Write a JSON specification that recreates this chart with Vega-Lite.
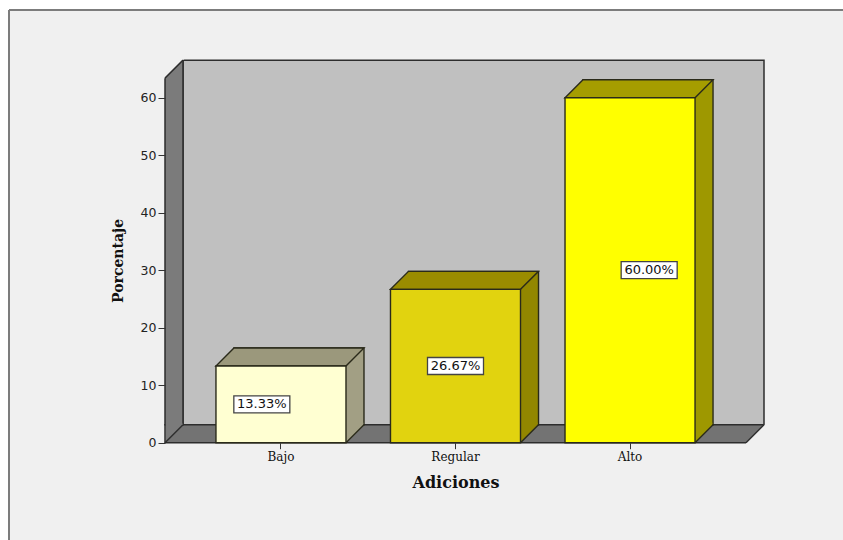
{
  "$schema": "https://vega.github.io/schema/vega-lite/v6.json",
  "width": 834,
  "height": 530,
  "padding": {"left": 9, "top": 10, "right": 0, "bottom": 0},
  "autosize": {"type": "none"},
  "background": "white",
  "config": {
    "view": {"fill": "#f0f0f0", "stroke": "#7c7c7c", "strokeWidth": 2, "strokeDash": [834, 1364, 530, 0]}
  },
  "datasets": {
    "adiciones": [
      {"Adiciones": "Bajo", "Porcentaje": 13.33, "Etiqueta": "13.33%"},
      {"Adiciones": "Regular", "Porcentaje": 26.67, "Etiqueta": "26.67%"},
      {"Adiciones": "Alto", "Porcentaje": 60.0, "Etiqueta": "60.00%"}
    ],
    "marco": [{"pieza": "pared"}]
  },
  "resolve": {"scale": {"x": "independent", "y": "independent"}},
  "layer": [
    {
      "data": {"name": "marco"},
      "layer": [
        {
          "mark": {"type": "rect", "fill": "#c0c0c0", "stroke": "#2d2d2d", "strokeWidth": 1.5, "xOffset": 18, "x2Offset": 18, "yOffset": -18, "y2Offset": -18},
          "encoding": {
            "x": {"datum": 0, "type": "quantitative", "scale": {"domain": [0, 1], "range": [156, 737], "nice": false, "zero": false}, "axis": null},
            "x2": {"datum": 1},
            "y": {"datum": 63.4, "type": "quantitative", "scale": {"domain": [0, 63.4], "range": [432.7, 68.15], "nice": false, "zero": false}, "axis": null},
            "y2": {"datum": 0}
          }
        },
        {
          "mark": {"type": "rect", "fill": "#737373", "stroke": "#2d2d2d", "strokeWidth": 1.5, "x2Offset": 18, "yOffset": -18},
          "encoding": {
            "x": {"datum": 0, "type": "quantitative", "axis": null},
            "x2": {"datum": 1},
            "y": {"datum": 0, "type": "quantitative", "axis": null},
            "y2": {"datum": 0}
          }
        },
        {
          "mark": {"type": "point", "shape": "M0,0 L18,-18 L19.5,-18 L19.5,1.5 L0,1.5 Z", "size": 4, "filled": true, "fill": "#f0f0f0", "strokeWidth": 0, "opacity": 1},
          "encoding": {
            "x": {"datum": 1, "type": "quantitative", "axis": null},
            "y": {"datum": 0, "type": "quantitative", "axis": null}
          }
        },
        {
          "mark": {"type": "point", "shape": "M0,0 L18,-18", "size": 4, "filled": false, "stroke": "#2d2d2d", "strokeWidth": 1.5, "opacity": 1},
          "encoding": {
            "x": {"datum": 1, "type": "quantitative", "axis": null},
            "y": {"datum": 0, "type": "quantitative", "axis": null}
          }
        },
        {
          "mark": {"type": "rect", "fill": "#7b7b7b", "stroke": "#2d2d2d", "strokeWidth": 1.5, "x2Offset": 18, "yOffset": -18, "y2Offset": -18},
          "encoding": {
            "x": {"datum": 0, "type": "quantitative", "axis": null},
            "x2": {"datum": 0},
            "y": {"datum": 63.4, "type": "quantitative", "axis": null},
            "y2": {"datum": 0}
          }
        },
        {
          "mark": {"type": "point", "shape": "M0,0 L-2,0 L-2,-20 L20,-20 Z", "size": 4, "filled": true, "fill": "#f0f0f0", "strokeWidth": 0, "opacity": 1},
          "encoding": {
            "x": {"datum": 0, "type": "quantitative", "axis": null},
            "y": {"datum": 63.4, "type": "quantitative", "axis": null}
          }
        },
        {
          "mark": {"type": "point", "shape": "M0,0 L18,-18", "size": 4, "filled": false, "stroke": "#2d2d2d", "strokeWidth": 1.5, "opacity": 1},
          "encoding": {
            "x": {"datum": 0, "type": "quantitative", "axis": null},
            "y": {"datum": 63.4, "type": "quantitative", "axis": null}
          }
        },
        {
          "mark": {"type": "point", "shape": "M0.8,-0.8 L0.8,-19 L18,-19 L18,-18 Z", "size": 4, "filled": true, "fill": "#7b7b7b", "strokeWidth": 0, "opacity": 1},
          "encoding": {
            "x": {"datum": 0, "type": "quantitative", "axis": null},
            "y": {"datum": 0, "type": "quantitative", "axis": null}
          }
        },
        {
          "mark": {"type": "point", "shape": "M0,0 L18,-18", "size": 4, "filled": false, "stroke": "#2d2d2d", "strokeWidth": 1.5, "opacity": 1},
          "encoding": {
            "x": {"datum": 0, "type": "quantitative", "axis": null},
            "y": {"datum": 0, "type": "quantitative", "axis": null}
          }
        }
      ]
    },
    {
      "data": {"name": "adiciones"},
      "resolve": {"scale": {"fill": "independent"}},
      "layer": [
        {
          "mark": {"type": "rect", "stroke": "#2a2a1a", "strokeWidth": 1.4, "xOffset": 18, "x2Offset": 18, "yOffset": -18, "y2Offset": -18},
          "encoding": {
            "x": {"field": "Adiciones", "type": "nominal", "scale": {"domain": ["Bajo", "Regular", "Alto"], "range": [156, 737], "paddingInner": 0.255, "paddingOuter": 0.292}, "axis": {"title": "Adiciones", "domain": false, "grid": false, "ticks": true, "tickSize": 6, "tickColor": "#333333", "labelAngle": 0, "labelFont": "DejaVu Serif", "labelFontSize": 12, "labelColor": "#111111", "labelPadding": 3, "offset": -97.3, "zindex": 2, "titleFont": "DejaVu Serif", "titleFontSize": 16, "titleFontWeight": "bold", "titleColor": "#111111", "titlePadding": 12}},
            "y": {"field": "Porcentaje", "type": "quantitative", "scale": {"domain": [0, 63.4], "range": [432.7, 68.15], "nice": false, "zero": false}, "axis": {"title": "Porcentaje", "values": [0, 10, 20, 30, 40, 50, 60], "domain": false, "grid": false, "ticks": true, "tickSize": 7, "tickColor": "#333333", "labelFont": "DejaVu Sans", "labelFontSize": 12.5, "labelColor": "#222222", "labelPadding": 2, "offset": -156, "zindex": 2, "titleFont": "DejaVu Serif", "titleFontSize": 14, "titleFontWeight": "bold", "titleColor": "#111111", "titlePadding": 15}},
            "y2": {"datum": 0},
            "fill": {"field": "Adiciones", "type": "nominal", "scale": {"domain": ["Bajo", "Regular", "Alto"], "range": ["#a29f84", "#928700", "#9e9800"]}, "legend": null}
          }
        },
        {
          "mark": {"type": "point", "shape": "M-65,0 L65,0 L83,-18 L-47,-18 Z", "size": 4, "filled": true, "stroke": "#2a2a1a", "strokeWidth": 1.4, "opacity": 1},
          "encoding": {
            "x": {"field": "Adiciones", "type": "nominal"},
            "y": {"field": "Porcentaje", "type": "quantitative"},
            "fill": {"field": "Adiciones", "type": "nominal", "scale": {"domain": ["Bajo", "Regular", "Alto"], "range": ["#9b987c", "#9a8c00", "#a59d00"]}, "legend": null}
          }
        },
        {
          "mark": {"type": "point", "shape": "M65,0 L82.3,-17.3 L82.3,-20 L65,-20 Z", "size": 4, "filled": true, "strokeWidth": 0, "opacity": 1},
          "encoding": {
            "x": {"field": "Adiciones", "type": "nominal"},
            "y": {"datum": 0, "type": "quantitative"},
            "fill": {"field": "Adiciones", "type": "nominal", "scale": {"domain": ["Bajo", "Regular", "Alto"], "range": ["#a29f84", "#928700", "#9e9800"]}, "legend": null}
          }
        },
        {
          "mark": {"type": "point", "shape": "M65,0 L83,-18", "size": 4, "filled": false, "stroke": "#2a2a1a", "strokeWidth": 1.4, "opacity": 1},
          "encoding": {
            "x": {"field": "Adiciones", "type": "nominal"},
            "y": {"datum": 0, "type": "quantitative"}
          }
        },
        {
          "mark": {"type": "rect", "stroke": "#2a2a1a", "strokeWidth": 1.4},
          "encoding": {
            "x": {"field": "Adiciones", "type": "nominal"},
            "y": {"field": "Porcentaje", "type": "quantitative"},
            "y2": {"datum": 0},
            "fill": {"field": "Adiciones", "type": "nominal", "scale": {"domain": ["Bajo", "Regular", "Alto"], "range": ["#ffffd2", "#e1d30f", "#ffff00"]}, "legend": null}
          }
        }
      ]
    },
    {
      "data": {"name": "adiciones"},
      "layer": [
        {
          "mark": {"type": "point", "shape": "M-28,-8.5 L28,-8.5 L28,8.5 L-28,8.5 Z", "size": 4, "filled": true, "fill": "white", "stroke": "#444444", "strokeWidth": 1.3, "opacity": 1},
          "encoding": {
            "x": {"field": "Adiciones", "type": "nominal", "scale": {"domain": ["Bajo", "Regular", "Alto"], "range": [156, 737], "paddingInner": 0.255, "paddingOuter": 0.292}, "axis": null},
            "y": {"field": "Porcentaje", "type": "quantitative", "scale": {"domain": [0, 126.8], "range": [432.7, 68.15], "nice": false, "zero": false}, "axis": null}
          }
        },
        {
          "mark": {"type": "text", "font": "DejaVu Sans", "fontSize": 13, "color": "#111111", "align": "center", "baseline": "middle"},
          "encoding": {
            "x": {"field": "Adiciones", "type": "nominal", "axis": null},
            "y": {"field": "Porcentaje", "type": "quantitative", "axis": null},
            "text": {"field": "Etiqueta", "type": "nominal"}
          }
        }
      ]
    }
  ]
}
